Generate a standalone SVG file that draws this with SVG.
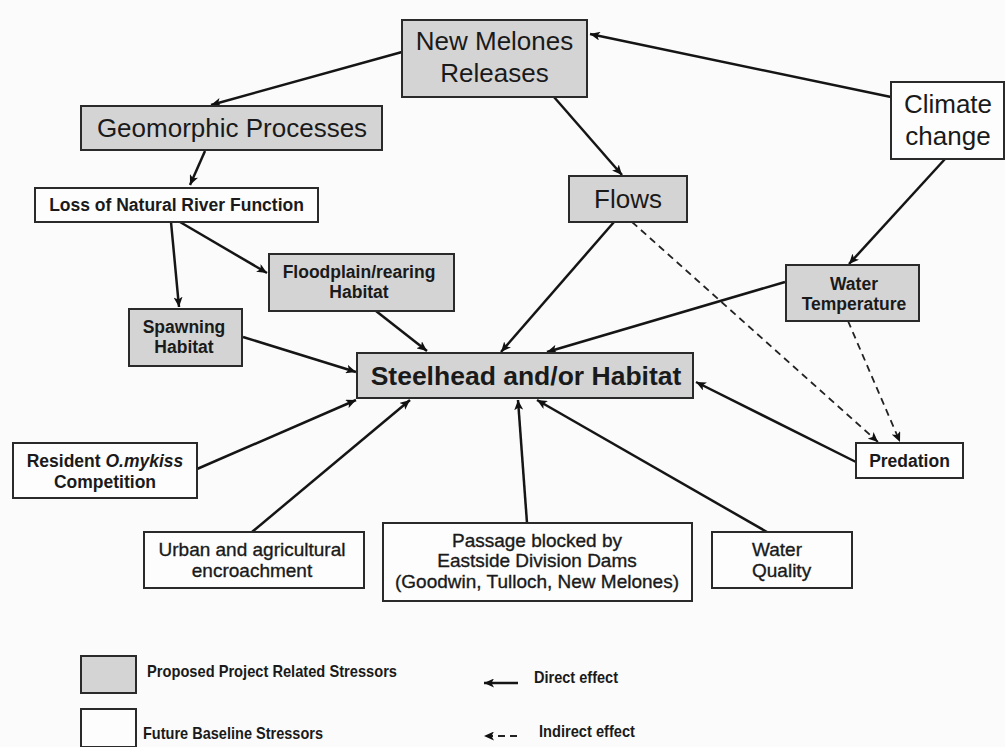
<svg xmlns="http://www.w3.org/2000/svg" width="1005" height="747" viewBox="0 0 1005 747">
<style>
.bg{fill:#fbfbfb}
.g{fill:#d4d4d4;stroke:#2a2a2a;stroke-width:2}
.w{fill:#fdfdfd;stroke:#2a2a2a;stroke-width:2}
text{font-family:"Liberation Sans",Arial,sans-serif;fill:#1a1a1a;text-anchor:middle}
.big{font-size:26px}
.bb{font-size:17.5px;font-weight:bold}
.rg{font-size:19px;stroke:#1a1a1a;stroke-width:0.35}
.lg{font-size:16.5px;font-weight:bold;text-anchor:start}
.c{stroke:#151515;stroke-width:2.5;fill:none;marker-end:url(#ah)}
.d{stroke:#222;stroke-width:1.8;fill:none;stroke-dasharray:7,5;marker-end:url(#ah)}
</style>
<defs>
<marker id="ah" markerUnits="userSpaceOnUse" markerWidth="11" markerHeight="9" refX="10" refY="4.5" orient="auto">
<path d="M0,0 L10,4.5 L0,9 L2.5,4.5 z" fill="#111"/>
</marker>
</defs>
<rect class="bg" x="0" y="0" width="1005" height="747"/>

<g id="connectors">
<line class="c" x1="402" y1="52" x2="211" y2="105"/>
<line class="c" x1="891" y1="97" x2="590" y2="34"/>
<line class="c" x1="554" y1="97" x2="622" y2="175"/>
<line class="c" x1="205" y1="151" x2="190" y2="185"/>
<line class="c" x1="171" y1="222" x2="179" y2="307"/>
<line class="c" x1="180" y1="222" x2="267" y2="273"/>
<line class="c" x1="376" y1="311" x2="427" y2="351"/>
<line class="c" x1="243" y1="337" x2="356" y2="372"/>
<line class="c" x1="197" y1="469" x2="356" y2="400"/>
<line class="c" x1="252" y1="532" x2="410" y2="400"/>
<line class="c" x1="527" y1="523" x2="518" y2="400"/>
<line class="c" x1="767" y1="532" x2="537" y2="400"/>
<line class="c" x1="856" y1="462" x2="696" y2="382"/>
<line class="c" x1="614" y1="222" x2="501" y2="352"/>
<line class="c" x1="785" y1="282" x2="547" y2="352"/>
<line class="c" x1="945" y1="159" x2="849" y2="264"/>
<line class="d" x1="632" y1="222" x2="878" y2="442"/>
<line class="d" x1="848" y1="321" x2="900" y2="442"/>
<line class="c" x1="518" y1="683" x2="484" y2="683"/>
<line class="d" x1="517" y1="736" x2="484" y2="736"/>
</g>

<g id="new-melones"><rect class="g" x="402" y="20" width="185" height="77"/><text class="big" x="494.5" y="50">New Melones</text><text class="big" x="494.5" y="82">Releases</text></g>
<g id="geomorphic"><rect class="g" x="81" y="106" width="301" height="44"/><text class="big" x="232" y="137">Geomorphic Processes</text></g>
<g id="loss"><rect class="w" x="35" y="188" width="283" height="34"/><text class="bb" x="176.5" y="211">Loss of Natural River Function</text></g>
<g id="flows"><rect class="g" x="569" y="176" width="118" height="46"/><text class="big" x="628" y="208">Flows</text></g>
<g id="climate"><rect class="w" x="891" y="82" width="113" height="77"/><text class="big" x="948" y="113">Climate</text><text class="big" x="948" y="145">change</text></g>
<g id="floodplain"><rect class="g" x="269" y="254" width="185" height="57"/><text class="bb" x="359" y="278">Floodplain/rearing</text><text class="bb" x="359" y="298">Habitat</text></g>
<g id="spawning"><rect class="g" x="129" y="309" width="113" height="57"/><text class="bb" x="184" y="333">Spawning</text><text class="bb" x="184" y="353">Habitat</text></g>
<g id="steelhead"><rect class="g" x="357" y="353" width="336" height="45"/><text x="526" y="385" style="font-size:26.5px;font-weight:bold">Steelhead and/or Habitat</text></g>
<g id="water-temp"><rect class="g" x="786" y="265" width="133" height="56"/><text class="bb" x="854" y="290">Water</text><text class="bb" x="854" y="310">Temperature</text></g>
<g id="predation"><rect class="w" x="856" y="443" width="107" height="35"/><text class="bb" x="909.5" y="467">Predation</text></g>
<g id="resident"><rect class="w" x="13" y="443" width="184" height="55"/><text class="bb" x="105" y="467">Resident <tspan font-style="italic">O.mykiss</tspan></text><text class="bb" x="105" y="488">Competition</text></g>
<g id="urban"><rect class="w" x="144" y="532" width="220" height="56"/><text class="rg" x="252" y="556">Urban and agricultural</text><text class="rg" x="252" y="577">encroachment</text></g>
<g id="passage"><rect class="w" x="383" y="523" width="309" height="78"/><text class="rg" x="537" y="547">Passage blocked by</text><text class="rg" x="537" y="567">Eastside Division Dams</text><text class="rg" x="537" y="588">(Goodwin, Tulloch, New Melones)</text></g>
<g id="water-quality"><rect class="w" x="712" y="532" width="140" height="56"/><text class="rg" x="752" y="556" style="text-anchor:start">Water</text><text class="rg" x="752" y="577" style="text-anchor:start">Quality</text></g>

<g id="legend">
<rect class="g" x="81" y="656" width="55" height="37"/>
<rect class="w" x="81" y="709" width="55" height="38"/>
<text class="lg" x="147" y="677" textLength="250" lengthAdjust="spacingAndGlyphs">Proposed Project Related Stressors</text>
<text class="lg" x="143" y="739" textLength="180" lengthAdjust="spacingAndGlyphs">Future Baseline Stressors</text>
<text class="lg" x="534" y="683" textLength="84" lengthAdjust="spacingAndGlyphs">Direct effect</text>
<text class="lg" x="539" y="737" textLength="96" lengthAdjust="spacingAndGlyphs">Indirect effect</text>
</g>
</svg>
